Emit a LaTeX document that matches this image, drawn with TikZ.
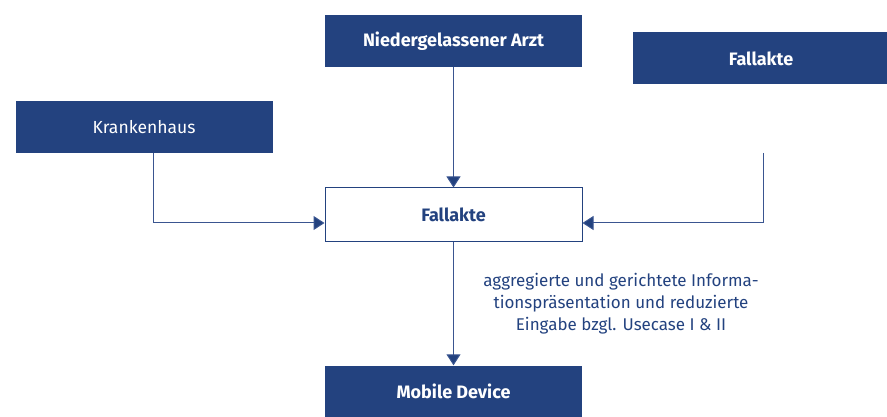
\documentclass[tikz,border=0pt]{standalone}
\usepackage{fontspec}
\setmainfont{Fira Sans}
\usetikzlibrary{arrows.meta}
\definecolor{navy}{HTML}{23427F}
\definecolor{lnk}{HTML}{3A5590}
\begin{document}
\begin{tikzpicture}[x=1pt,y=-1pt,
  filled/.style={draw=none,fill=navy,text=white,minimum width=257pt,minimum height=52pt,inner sep=0pt,font=\fontsize{17.5}{21}\selectfont},
  filledb/.style={filled,font=\fontsize{18}{21}\selectfont\bfseries},
  hollow/.style={draw=navy,line width=1pt,fill=white,text=navy,minimum width=257pt,minimum height=53pt,inner sep=0pt,font=\fontsize{18}{21}\selectfont\bfseries},
  conn/.style={draw=lnk,line width=1pt,-{Triangle[width=14pt,length=11pt,fill=navy]}}]
\useasboundingbox (0,0) rectangle (887,417);
\node[filledb] (arzt) at (453.5,41) {Niedergelassener Arzt};
\node[filledb] (fall2) at (761,58.5) {Fallakte};
\node[filled] (kh) at (144,127.5) {Krankenhaus};
\node[hollow] (fall) at (453.5,214.5) {Fallakte};
\node[filledb] (mob) at (453.5,391.5) {Mobile Device};
\coordinate (lstart) at (153,153.5);
\coordinate (rstart) at (763,153);
\draw[conn] (lstart) |- ([yshift=-8.5pt]fall.west);
\draw[conn] (arzt.south) -- (fall.north);
\draw[conn] (rstart) |- ([yshift=-8.5pt]fall.east);
\draw[conn] (fall.south) -- (mob.north);
\node[text=navy,align=center,font=\fontsize{17}{22}\selectfont,inner sep=0pt] (lbl) at (621,304) {aggregierte und gerichtete Informa-\\tionspräsentation und reduzierte\\Eingabe bzgl. Usecase I \& II};
\end{tikzpicture}
\end{document}
